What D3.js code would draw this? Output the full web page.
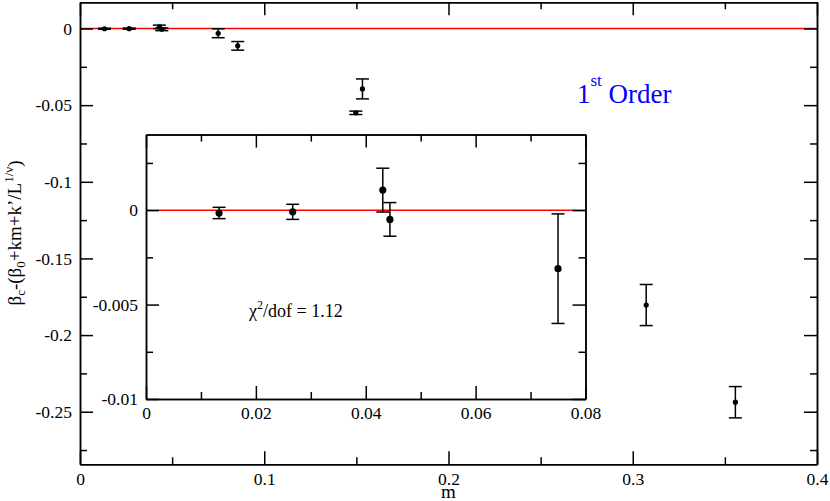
<!DOCTYPE html>
<html>
<head>
<meta charset="utf-8">
<script src="https://cdn.jsdelivr.net/npm/d3@7"></script>
<style>
  html, body { margin: 0; padding: 0; background: #fff; }
  svg { display: block; }
</style>
</head>
<body>
<svg id="chart" width="830" height="501"></svg>
<script>
// data
const mValues   = [0.0133, 0.0267, 0.0431, 0.0444, 0.0750, 0.0856, 0.1497, 0.1533, 0.3073, 0.3557];
const residuals = [-0.00015, -0.00009, 0.00106, -0.00049, -0.0031, -0.0113, -0.0550, -0.0394, -0.1804, -0.2438];
const errors    = [0.0003, 0.0004, 0.00116, 0.00089, 0.0029, 0.0028, 0.0011, 0.0065, 0.0134, 0.0102];
const fitValue = 0;

const mainXTicks = [0, 0.1, 0.2, 0.3, 0.4];
const mainXMinor = [0.05, 0.15, 0.25, 0.35];
const mainYTicks = [0, -0.05, -0.1, -0.15, -0.2, -0.25];
const mainYMinor = [-0.025, -0.075, -0.125, -0.175, -0.225, -0.275];

const insetXTicks = [0, 0.02, 0.04, 0.06, 0.08];
const insetXMinor = [0.01, 0.03, 0.05, 0.07];
const insetYTicks = [0, -0.005, -0.01];
const insetYMinor = [0.0025, -0.0025, -0.0075];
const insetMaxM = 0.08;

const svg = d3.select('#chart');

const points = mValues.map((m, i) => ({ m, r: residuals[i], e: errors[i] }));

const fmt = d => String(d);

const drawPanel = (g, x, y, opt) => {
  const [x0, x1] = x.range();
  const [yb, yt] = y.range();

  g.append('rect')
    .attr('x', x0).attr('y', yt)
    .attr('width', x1 - x0).attr('height', yb - yt)
    .attr('fill', '#fff');

  // fit line
  g.append('line')
    .attr('x1', x(x.domain()[0])).attr('x2', x(x.domain()[1]))
    .attr('y1', y(fitValue)).attr('y2', y(fitValue))
    .attr('stroke', '#ff0000').attr('stroke-width', 1.5);

  const pts = g.append('g').selectAll('g').data(opt.data).join('g');
  pts.append('line')
    .attr('x1', d => x(d.m)).attr('x2', d => x(d.m))
    .attr('y1', d => y(d.r + d.e)).attr('y2', d => y(d.r - d.e));
  pts.append('line')
    .attr('x1', d => x(d.m) - 6.5).attr('x2', d => x(d.m) + 6.5)
    .attr('y1', d => y(d.r + d.e)).attr('y2', d => y(d.r + d.e));
  pts.append('line')
    .attr('x1', d => x(d.m) - 6.5).attr('x2', d => x(d.m) + 6.5)
    .attr('y1', d => y(d.r - d.e)).attr('y2', d => y(d.r - d.e));
  pts.selectAll('line').attr('stroke', '#000').attr('stroke-width', 1.5);
  pts.append('circle')
    .attr('cx', d => x(d.m)).attr('cy', d => y(d.r))
    .attr('r', opt.radius).attr('fill', '#000');

  const axes = [
    [d3.axisBottom(x).tickValues(opt.xTicks).tickFormat(fmt), `translate(0,${yb})`],
    [d3.axisBottom(x).tickValues(opt.xMinor).tickFormat(''), `translate(0,${yb})`, true],
    [d3.axisTop(x).tickValues(opt.xTicks).tickFormat(''), `translate(0,${yt})`],
    [d3.axisTop(x).tickValues(opt.xMinor).tickFormat(''), `translate(0,${yt})`, true],
    [d3.axisLeft(y).tickValues(opt.yTicks).tickFormat(fmt), `translate(${x0},0)`],
    [d3.axisLeft(y).tickValues(opt.yMinor).tickFormat(''), `translate(${x0},0)`, true],
    [d3.axisRight(y).tickValues(opt.yTicks).tickFormat(''), `translate(${x1},0)`],
    [d3.axisRight(y).tickValues(opt.yMinor).tickFormat(''), `translate(${x1},0)`, true]
  ];

  axes.forEach(([axis, tr, minor]) => {
    axis.tickSizeInner(minor ? -7 : -13).tickSizeOuter(0).tickPadding(8);
    const a = g.append('g').attr('transform', tr).call(axis)
      .attr('font-size', 17.5);
    a.selectAll('path, line').attr('stroke', '#000').attr('stroke-width', 1.5);
  });
  g.selectAll('.tick text').attr('fill', '#000');
};

// main panel
const x = d3.scaleLinear([0, 0.4], [80, 817]);
const y = d3.scaleLinear([-0.2843, 0.0171], [464.3, 2.3]);
drawPanel(svg.append('g'), x, y, {
  data: points, radius: 2.6,
  xTicks: mainXTicks, xMinor: mainXMinor, yTicks: mainYTicks, yMinor: mainYMinor
});

// inset
const ix = d3.scaleLinear([0, 0.08], [146, 585.5]);
const iy = d3.scaleLinear([-0.01, 0.004], [399, 134.6]);
drawPanel(svg.append('g'), ix, iy, {
  data: points.filter(d => d.m < insetMaxM), radius: 3.6,
  xTicks: insetXTicks, xMinor: insetXMinor, yTicks: insetYTicks, yMinor: insetYMinor
});

// labels
svg.append('text')
  .attr('x', 448.5).attr('y', 497.5)
  .attr('text-anchor', 'middle')
  .attr('font-size', 19)
  .text('m');

const yl = svg.append('text')
  .attr('transform', 'translate(21,233) rotate(-90)')
  .attr('text-anchor', 'middle')
  .attr('font-size', 19);
yl.append('tspan').text('β');
yl.append('tspan').attr('dy', 4).attr('font-size', 13).text('c');
yl.append('tspan').attr('dy', -4).text('-(β');
yl.append('tspan').attr('dy', 4).attr('font-size', 13).text('0');
yl.append('tspan').attr('dy', -4).text('+km+k’/L');
yl.append('tspan').attr('dy', -8).attr('font-size', 13).text('1/ν');
yl.append('tspan').attr('dy', 8).text(')');

const chi = svg.append('text')
  .attr('x', 249).attr('y', 316.5)
  .attr('font-size', 18);
chi.append('tspan').text('χ');
chi.append('tspan').attr('dy', -8).attr('font-size', 12).text('2');
chi.append('tspan').attr('dy', 8).text('/dof = 1.12');

const order = svg.append('text')
  .attr('x', 577).attr('y', 102.7)
  .attr('fill', '#0000ff')
  .attr('font-size', 27);
order.append('tspan').text('1');
order.append('tspan').attr('dy', -17).attr('font-size', 17).text('st');
order.append('tspan').attr('dy', 17).text(' Order');

svg.selectAll('text').style('font-family', '"Liberation Serif"');
</script>
</body>
</html>
